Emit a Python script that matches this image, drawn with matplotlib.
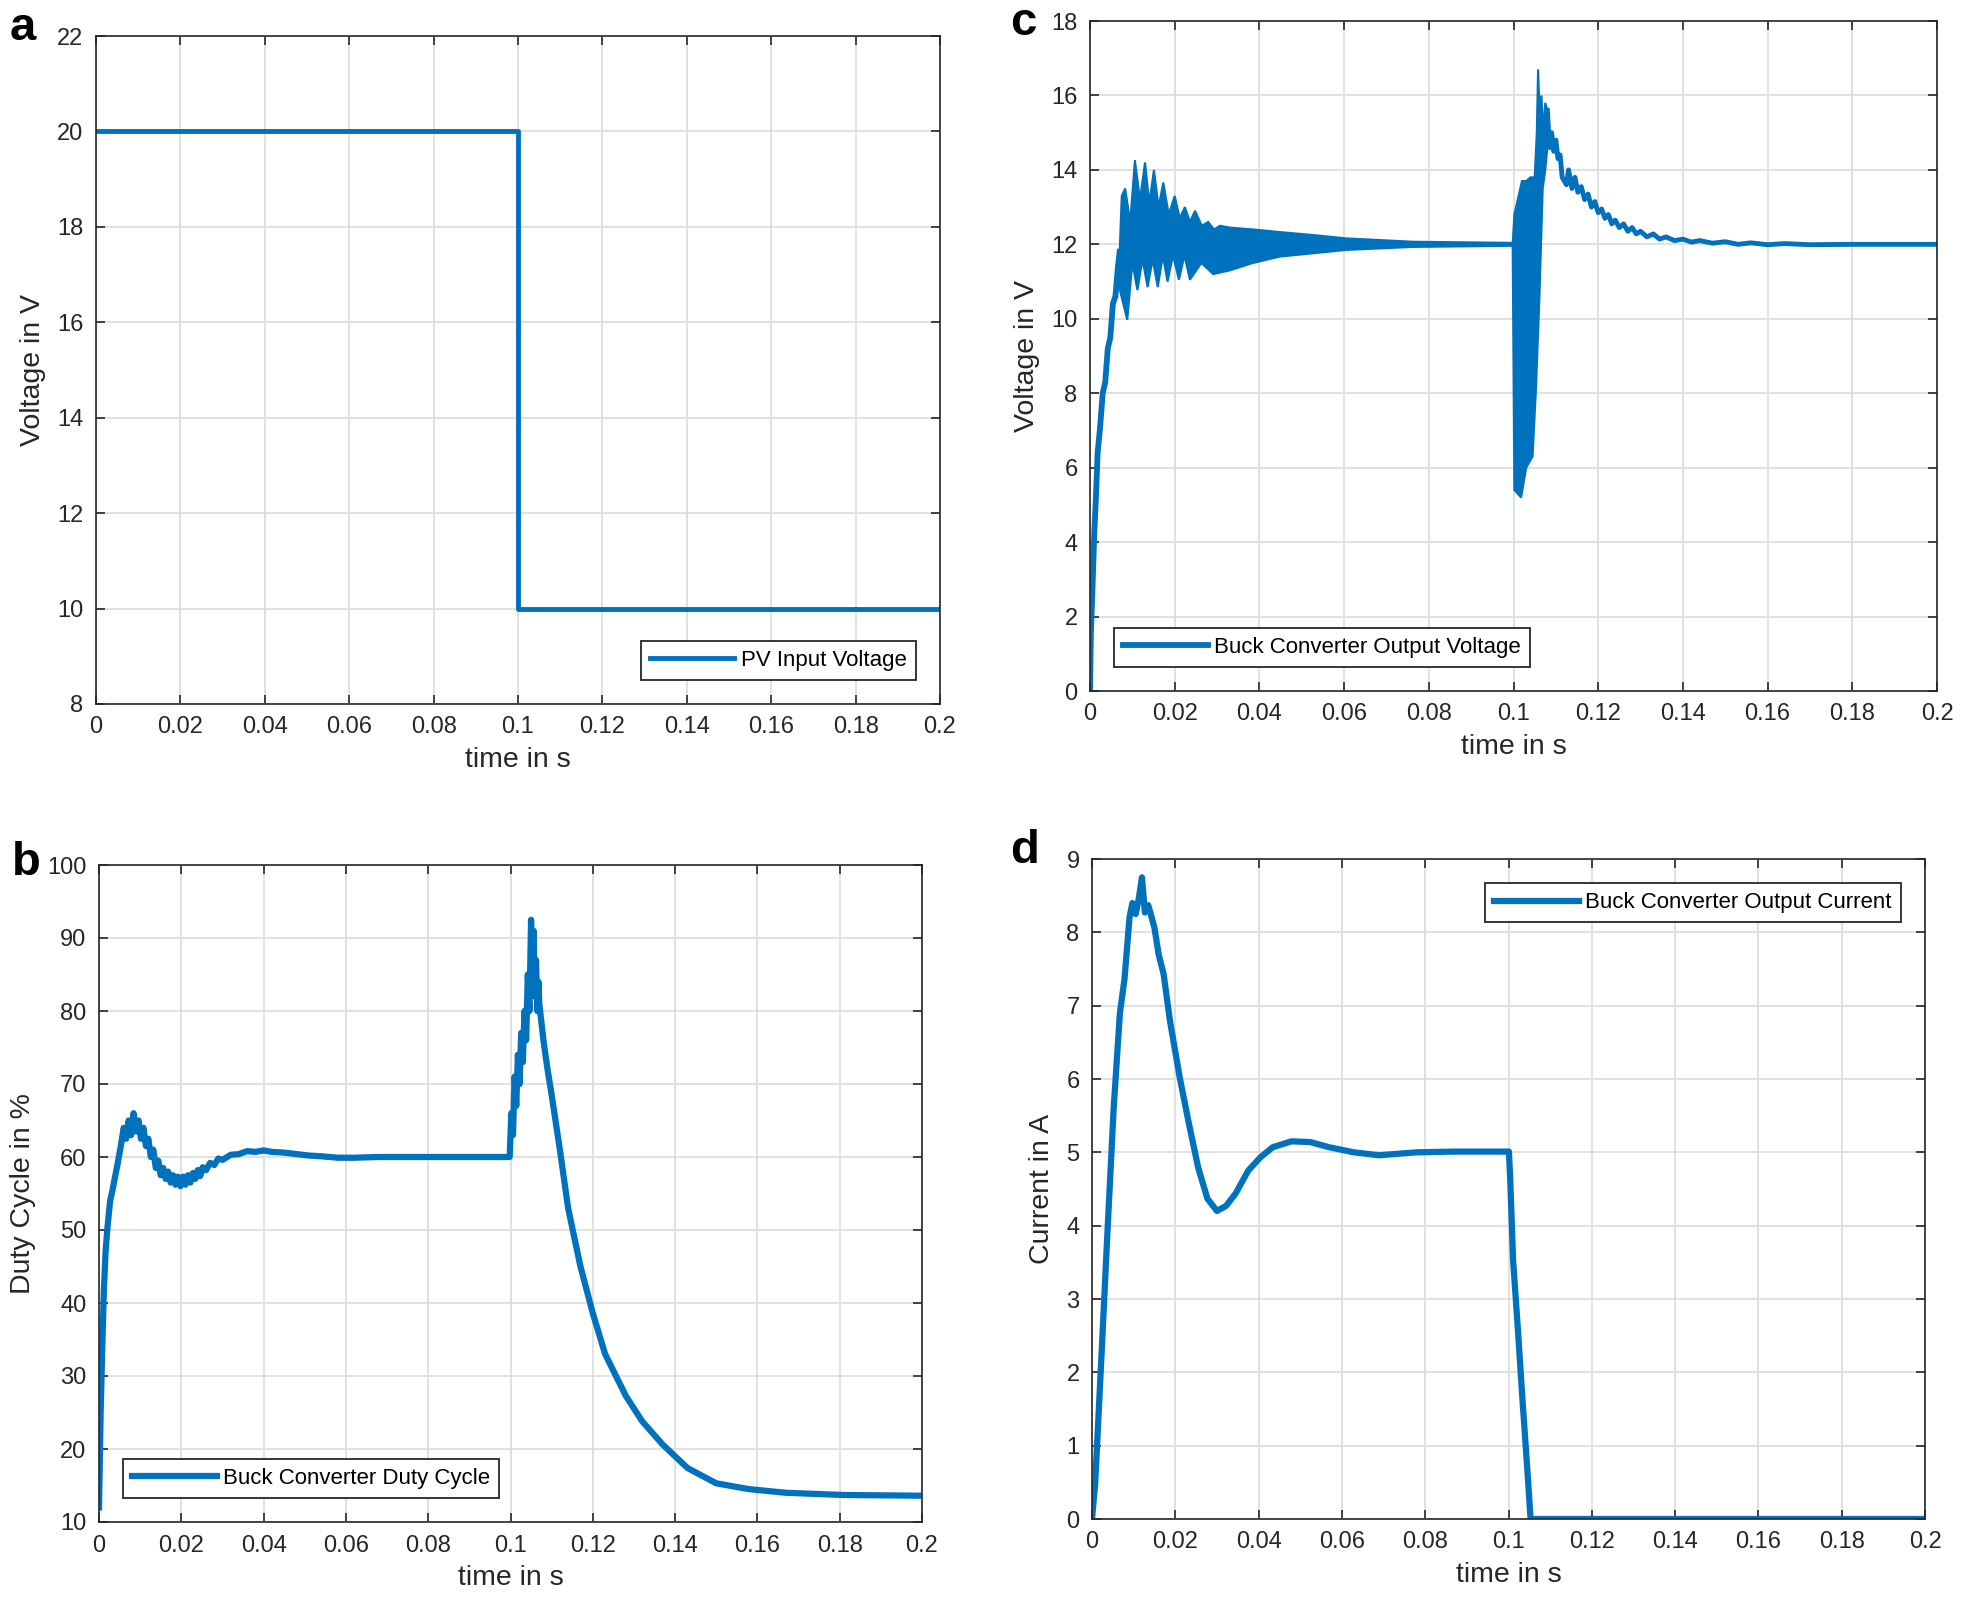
"""
buck converter simulation results, four panels
"""
import matplotlib
matplotlib.use('Agg')
import matplotlib.pyplot as plt
import numpy as np
from matplotlib.ticker import FormatStrFormatter

plt.rcParams['font.family'] = ['Liberation Sans', 'DejaVu Sans']

BLUE = '#0072BD'
DARK = '#262626'

# (a) PV input voltage
t_pv = [0, 0.1, 0.1, 0.2]
v_pv = [20, 20, 10, 10]

# (b) duty cycle in %
t_duty = [0, 0.0004, 0.0008, 0.0012, 0.0016, 0.002, 0.0027, 0.0033, 0.0038, 0.0045,
          0.0053, 0.006, 0.0066, 0.0072, 0.0078, 0.0084, 0.009, 0.0096, 0.0102, 0.0108,
          0.0114, 0.012, 0.0126, 0.0132, 0.0138, 0.0144, 0.015, 0.0156, 0.0162, 0.0168,
          0.0174, 0.018, 0.0186, 0.0192, 0.0198, 0.0204, 0.021, 0.0216, 0.0222, 0.0228,
          0.0234, 0.024, 0.0246, 0.0252, 0.026, 0.027, 0.028, 0.029, 0.030, 0.032,
          0.034, 0.036, 0.038, 0.040, 0.042, 0.045, 0.048, 0.051, 0.054, 0.058,
          0.062, 0.068, 0.075, 0.085, 0.0998,
          0.1002, 0.1006, 0.101, 0.1014, 0.1018, 0.1022, 0.1026, 0.103, 0.1034, 0.1038,
          0.1042, 0.1046, 0.105, 0.1053, 0.1056, 0.1059, 0.1062, 0.1065, 0.1068, 0.107,
          0.108, 0.109, 0.110, 0.112,
          0.114, 0.117, 0.120, 0.123, 0.128, 0.132, 0.137, 0.143, 0.150, 0.158,
          0.167, 0.181, 0.2]
duty = [12, 25, 34, 42, 47, 50, 54, 55.5, 57, 59,
        61.5, 64, 62.5, 65, 63, 66, 63.5, 65, 62.5, 64,
        61.5, 62.5, 60, 61, 58.5, 59.5, 57.5, 58.5, 57, 58,
        56.5, 57.5, 56.2, 57.3, 56, 57.3, 56.2, 57.5, 56.5, 57.8,
        57, 58.2, 57.4, 58.6, 58.2, 59.2, 58.9, 59.8, 59.6, 60.3,
        60.4, 60.8, 60.7, 60.9, 60.7, 60.6, 60.4, 60.2, 60.1, 59.9,
        59.9, 60.0, 60.0, 60.0, 60.0,
        66, 63, 71, 67, 74, 70, 77, 73, 80, 76,
        85, 80, 92.5, 84, 91, 82, 87, 80, 84, 81,
        76, 72, 68.5, 61,
        53, 45, 38.6, 33, 27.3, 23.8, 20.6, 17.4, 15.3, 14.5,
        14.0, 13.7, 13.6]

# (c) output voltage: start-up rise, oscillation band, disturbance band, recovery
t_rise = [0, 0.0002, 0.0006, 0.001, 0.0014, 0.0018, 0.0024, 0.003, 0.0036, 0.0042,
          0.0048, 0.0054, 0.006, 0.0066, 0.007]
v_rise = [0, 1.5, 2.8, 4.2, 5.2, 6.4, 7.1, 8.0, 8.3, 9.2,
          9.5, 10.4, 10.6, 11.4, 11.8]

t_band_hi = [0.007, 0.0075, 0.0083, 0.0095, 0.0106, 0.0118, 0.013, 0.014, 0.0151, 0.0162,
             0.0173, 0.0186, 0.020, 0.0212, 0.0224, 0.0236, 0.0248, 0.0264, 0.0279, 0.0293,
             0.0307, 0.033, 0.0385, 0.0448, 0.0527, 0.0605, 0.0763, 0.0998]
v_band_hi = [11.8, 13.3, 13.5, 12.6, 14.26, 13.2, 14.2, 13.1, 14.0, 13.0,
             13.66, 12.8, 13.3, 12.7, 13.0, 12.6, 12.9, 12.5, 12.6, 12.4,
             12.5, 12.45, 12.4, 12.33, 12.25, 12.16, 12.07, 12.04]
t_band_lo = [0.007, 0.0088, 0.0100, 0.0112, 0.0124, 0.0136, 0.0148, 0.016, 0.0172, 0.0183,
             0.0196, 0.021, 0.0223, 0.0236, 0.0263, 0.0291, 0.033, 0.0385, 0.0448, 0.0527,
             0.0605, 0.0763, 0.0998]
v_band_lo = [10.8, 9.97, 11.5, 10.77, 11.6, 10.85, 11.6, 10.85, 11.7, 11.0,
             11.7, 11.05, 11.7, 11.05, 11.5, 11.2, 11.3, 11.5, 11.67, 11.76,
             11.85, 11.93, 11.96]

t_dist_hi = [0.0998, 0.1002, 0.101, 0.102, 0.103, 0.104, 0.105, 0.1055, 0.1058, 0.1062,
             0.1066, 0.107, 0.1075, 0.108]
v_dist_hi = [12.0, 12.8, 13.2, 13.7, 13.7, 13.8, 13.8, 15.0, 16.7, 15.5,
             16.0, 15.0, 15.8, 15.6]
t_dist_lo = [0.0998, 0.1002, 0.1018, 0.103, 0.1045, 0.1053, 0.1061, 0.1069, 0.1075, 0.108]
v_dist_lo = [12.0, 5.4, 5.2, 6.0, 6.3, 8.1, 10.5, 13.5, 14.0, 14.6]

t_recov = [0.108, 0.1085, 0.109, 0.1095, 0.110, 0.1105, 0.111, 0.1115, 0.112, 0.1125,
           0.113, 0.1138, 0.1145, 0.1152, 0.116, 0.1168, 0.1176, 0.1184, 0.1192, 0.120,
           0.1208, 0.1216, 0.1224, 0.1232, 0.124, 0.125, 0.126, 0.127, 0.128, 0.129,
           0.130, 0.1315, 0.133, 0.1345, 0.136, 0.138, 0.140, 0.142, 0.144, 0.147,
           0.150, 0.153, 0.156, 0.160, 0.164, 0.170, 0.180, 0.2]
v_recov = [15.6, 14.6, 15.0, 14.5, 14.8, 14.3, 14.4, 13.8, 13.7, 13.6,
           14.0, 13.5, 13.8, 13.4, 13.55, 13.2, 13.35, 13.0, 13.15, 12.85,
           12.95, 12.7, 12.8, 12.55, 12.65, 12.45, 12.55, 12.35, 12.45, 12.28,
           12.35, 12.2, 12.28, 12.14, 12.2, 12.1, 12.14, 12.06, 12.1, 12.03,
           12.07, 12.0, 12.04, 11.99, 12.02, 11.99, 12.0, 12.0]

# (d) output current in A
t_cur = [0, 0.00075, 0.0022, 0.0037, 0.0052, 0.0067, 0.0078, 0.009, 0.0097, 0.0105,
         0.0112, 0.012, 0.0127, 0.0135, 0.0142, 0.015, 0.016, 0.0172, 0.0187, 0.021,
         0.0232, 0.0255, 0.0277, 0.030, 0.0322, 0.0345, 0.0375, 0.0404, 0.0434, 0.0479,
         0.0524, 0.0569, 0.0629, 0.0689, 0.0779, 0.0869, 0.1001, 0.1004, 0.1011, 0.1022,
         0.1034, 0.1046, 0.1053, 0.2]
cur = [0, 0.47, 2.14, 3.9, 5.6, 6.9, 7.36, 8.2, 8.4, 8.25,
       8.45, 8.75, 8.27, 8.37, 8.23, 8.06, 7.7, 7.43, 6.8, 6.04,
       5.41, 4.79, 4.37, 4.2, 4.27, 4.44, 4.75, 4.93, 5.07, 5.15,
       5.14, 5.07, 5.0, 4.96, 5.0, 5.01, 5.01, 4.65, 3.53, 2.63,
       1.59, 0.61, 0, 0]

x_ticks = [0, 0.02, 0.04, 0.06, 0.08, 0.1, 0.12, 0.14, 0.16, 0.18, 0.2]

W, H = 1961, 1600
fig = plt.figure(figsize=(W / 100, H / 100), dpi=100)


def make_axes(left, top, right, bottom):
    # pixel box -> figure fraction
    return fig.add_axes([left / W, 1 - bottom / H, (right - left) / W, (bottom - top) / H])


def style(ax, yticks, ylabel):
    ax.set_xlim(0, 0.2)
    ax.set_ylim(yticks[0], yticks[-1])
    ax.set_xticks(x_ticks)
    ax.set_yticks(yticks)
    ax.xaxis.set_major_formatter(FormatStrFormatter('%g'))
    ax.grid(True, color='#dedede', linewidth=1.3)
    ax.set_axisbelow(True)
    ax.tick_params(direction='in', top=True, right=True, length=6.5, width=1.2,
                   color=DARK, labelcolor=DARK, labelsize=17, pad=9)
    for s in ax.spines.values():
        s.set_color(DARK)
        s.set_linewidth(1.2)
    ax.set_xlabel('time in s', fontsize=20.5, color=DARK, labelpad=6)
    ax.set_ylabel(ylabel, fontsize=20.5, color=DARK, labelpad=8)


def legend(ax, loc):
    leg = ax.legend(loc=loc, fontsize=16, handlelength=3.8, handletextpad=0.3,
                    borderaxespad=1.1, fancybox=False, framealpha=1)
    leg.get_frame().set_edgecolor(DARK)
    leg.get_frame().set_linewidth(1.3)


# panel a
ax_a = make_axes(96, 36, 940, 704)
ax_a.plot(t_pv, v_pv, color=BLUE, lw=3.5, label='PV Input Voltage')
style(ax_a, list(range(8, 23, 2)), 'Voltage in V')
legend(ax_a, 'lower right')

# panel c
ax_c = make_axes(1090, 21, 1937, 691)
ax_c.plot(t_rise, v_rise, color=BLUE, lw=4.2, label='Buck Converter Output Voltage')
ax_c.fill(np.concatenate([t_band_hi, t_band_lo[::-1]]),
          np.concatenate([v_band_hi, v_band_lo[::-1]]),
          color=BLUE, ec=BLUE, lw=1.5)
ax_c.fill(np.concatenate([t_dist_hi, t_dist_lo[::-1]]),
          np.concatenate([v_dist_hi, v_dist_lo[::-1]]),
          color=BLUE, ec=BLUE, lw=1.5)
ax_c.plot(t_recov, v_recov, color=BLUE, lw=3.5)
style(ax_c, list(range(0, 19, 2)), 'Voltage in V')
legend(ax_c, 'lower left')

# panel b
ax_b = make_axes(99, 865, 922, 1522)
ax_b.plot(t_duty, duty, color=BLUE, lw=4.5, label='Buck Converter Duty Cycle')
style(ax_b, list(range(10, 101, 10)), 'Duty Cycle in %')
legend(ax_b, 'lower left')

# panel d
ax_d = make_axes(1092, 859, 1925, 1519)
ax_d.plot(t_cur, cur, color=BLUE, lw=4.5, label='Buck Converter Output Current')
style(ax_d, list(range(0, 10)), 'Current in A')
legend(ax_d, 'upper right')

# panel letters
for txt, x, y in [('a', 10, 40), ('c', 1010, 35), ('b', 12, 875), ('d', 1010, 863)]:
    fig.text(x / W, 1 - y / H, txt, fontsize=34, fontweight='bold', va='baseline', ha='left')

fig.savefig('out.png', dpi=100, facecolor='white')
